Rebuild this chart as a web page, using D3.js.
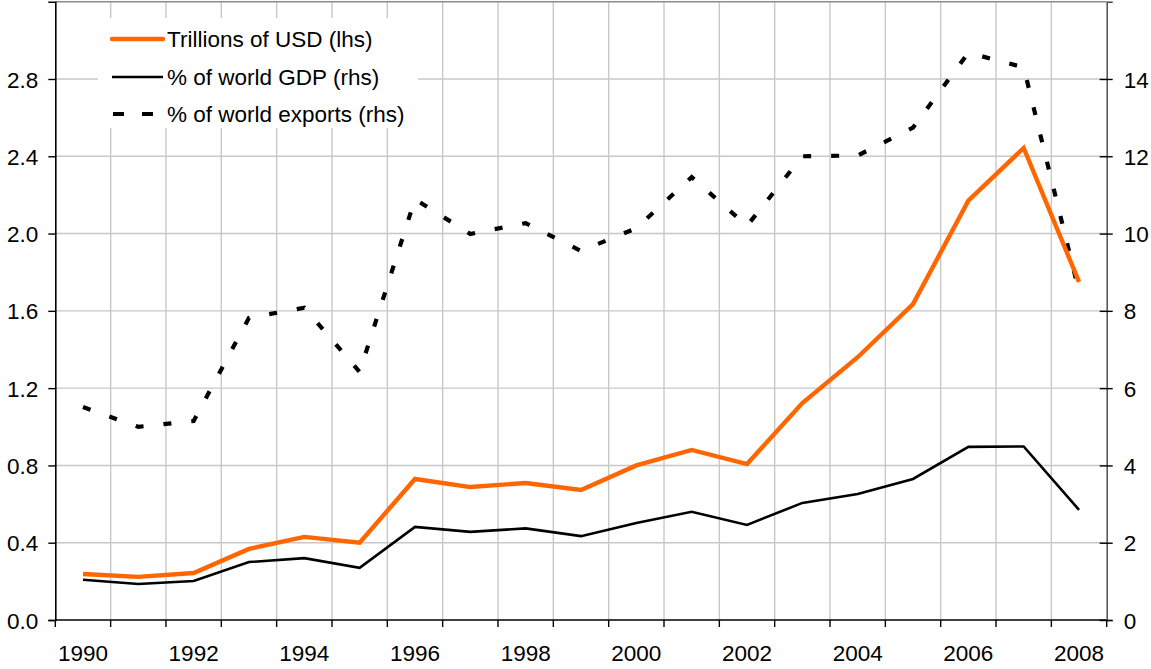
<!DOCTYPE html>
<html><head><meta charset="utf-8">
<script src="https://cdn.jsdelivr.net/npm/d3@7"></script>
<style>
html,body{margin:0;padding:0;background:#fff;}
svg{display:block;}
text{font-family:"Liberation Sans",Arial,sans-serif;font-size:22.5px;fill:#000;}
</style></head>
<body>
<svg id="c" width="1151" height="669"></svg>
<script>
const years = [1990,1991,1992,1993,1994,1995,1996,1997,1998,1999,2000,2001,2002,2003,2004,2005,2006,2007,2008];
const trillionsUSD = [0.238,0.223,0.243,0.368,0.43,0.40,0.73,0.688,0.709,0.673,0.80,0.88,0.807,1.123,1.36,1.635,2.17,2.443,1.75];
const pctWorldGDP = [1.04,0.93,1.01,1.50,1.60,1.35,2.41,2.28,2.37,2.17,2.51,2.80,2.46,3.03,3.26,3.65,4.48,4.49,2.85];
const pctWorldExports = [5.51,5.0,5.15,7.82,8.08,6.42,10.89,9.99,10.27,9.55,10.14,11.46,10.2,12.0,12.02,12.74,14.68,14.3,8.5];
const leftTicks = [0,0.4,0.8,1.2,1.6,2.0,2.4,2.8];
const rightTicks = [0,2,4,6,8,10,12,14];
const xLabelYears = [1990,1992,1994,1996,1998,2000,2002,2004,2006,2008];
const legendLabels = ["Trillions of USD (lhs)","% of world GDP (rhs)","% of world exports (rhs)"];

const svg = d3.select("#c");
const L = 55.3, R = 1106.7, T = 1.7, B = 620;
const FONT = "Liberation Sans, Arial, sans-serif";
const FS = "22.5px";
const x = d3.scaleBand().domain(years).range([L, R]).padding(0);
const yL = d3.scaleLinear().domain([0, 3.2]).range([B, T]);
const yR = d3.scaleLinear().domain([0, 16]).range([B, T]);
const cx = d => x(d) + x.bandwidth()/2;

// grid
const g = svg.append("g");
const bounds = years.map(d => x(d)).slice(1);
g.selectAll("line.vg").data(bounds).enter().append("line")
  .attr("x1", d=>d).attr("x2", d=>d).attr("y1", T).attr("y2", B)
  .attr("stroke", "#c8c8c8").attr("stroke-width", 1.4);
g.selectAll("line.hg").data(leftTicks.slice(1).concat([3.2])).enter().append("line")
  .attr("x1", L).attr("x2", R).attr("y1", d=>yL(d)).attr("y2", d=>yL(d))
  .attr("stroke", d => d===3.2 ? "#8c8c8c" : "#c8c8c8").attr("stroke-width", 1.4);

// axes
const axL = d3.axisLeft(yL).tickValues(leftTicks).tickFormat(d3.format(".1f")).tickSize(7).tickPadding(10);
const axR = d3.axisRight(yR).tickValues(rightTicks).tickFormat(d3.format("d")).tickSize(6).tickPadding(11);

const gl = svg.append("g").attr("transform", `translate(${L},0)`).call(axL);
gl.select(".domain").attr("stroke","#000").attr("stroke-width",1.6);
gl.selectAll(".tick line").attr("stroke","#000").attr("stroke-width",1.4);
gl.selectAll("text").style("font-size",FS).style("font-family",FONT).attr("dy","0.36em");

const gr = svg.append("g").attr("transform", `translate(${R},0)`).call(axR);
gr.select(".domain").attr("stroke","#444").attr("stroke-width",1.4);
gr.selectAll(".tick line").attr("stroke","#000").attr("stroke-width",1.4).attr("x1",-7);
gr.selectAll("text").style("font-size",FS).style("font-family",FONT).attr("dy","0.36em");

// bottom axis line + ticks
svg.append("line").attr("x1", L).attr("x2", R).attr("y1", B).attr("y2", B).attr("stroke","#000").attr("stroke-width",1.6);
const allBounds = years.map(d => x(d)).concat([R]);
svg.selectAll("line.bt").data(allBounds).enter().append("line")
  .attr("x1", d=>d).attr("x2", d=>d).attr("y1", B).attr("y2", B+7)
  .attr("stroke","#000").attr("stroke-width",1.4);
svg.selectAll("text.xl").data(xLabelYears).enter().append("text")
  .attr("x", d=>cx(d)).attr("y", 661).attr("text-anchor","middle").text(d=>d);

// legend background
svg.append("rect").attr("x",98).attr("y",18).attr("width",320).attr("height",110).attr("fill","#fff");

// lines
const lineL = d3.line().x((d,i)=>cx(years[i])).y(d=>yL(d));
const lineR = d3.line().x((d,i)=>cx(years[i])).y(d=>yR(d));

svg.append("path").datum(pctWorldExports).attr("d", lineR).attr("fill","none")
  .attr("stroke","#000").attr("stroke-width",4.2).attr("stroke-dasharray","8,20");
svg.append("path").datum(pctWorldGDP).attr("d", lineR).attr("fill","none")
  .attr("stroke","#000").attr("stroke-width",2.6).attr("stroke-linejoin","miter");
svg.append("path").datum(trillionsUSD).attr("d", lineL).attr("fill","none")
  .attr("stroke","#ff6600").attr("stroke-width",4.4).attr("stroke-linejoin","miter");

// legend
const leg = svg.append("g");
const ly = [39, 77, 114];
leg.append("line").attr("x1",112).attr("x2",163).attr("y1",ly[0]).attr("y2",ly[0]).attr("stroke","#ff6600").attr("stroke-width",4.4).attr("stroke-linecap","round");
leg.append("line").attr("x1",112).attr("x2",163).attr("y1",ly[1]).attr("y2",ly[1]).attr("stroke","#000").attr("stroke-width",2.6);
leg.append("line").attr("x1",113).attr("x2",163).attr("y1",ly[2]).attr("y2",ly[2]).attr("stroke","#000").attr("stroke-width",4.2).attr("stroke-dasharray","11,18");
leg.selectAll("text").data(legendLabels).enter().append("text")
  .attr("x",167).attr("y",(d,i)=>ly[i]).attr("dy","0.36em").text(d=>d);
</script>
</body></html>
